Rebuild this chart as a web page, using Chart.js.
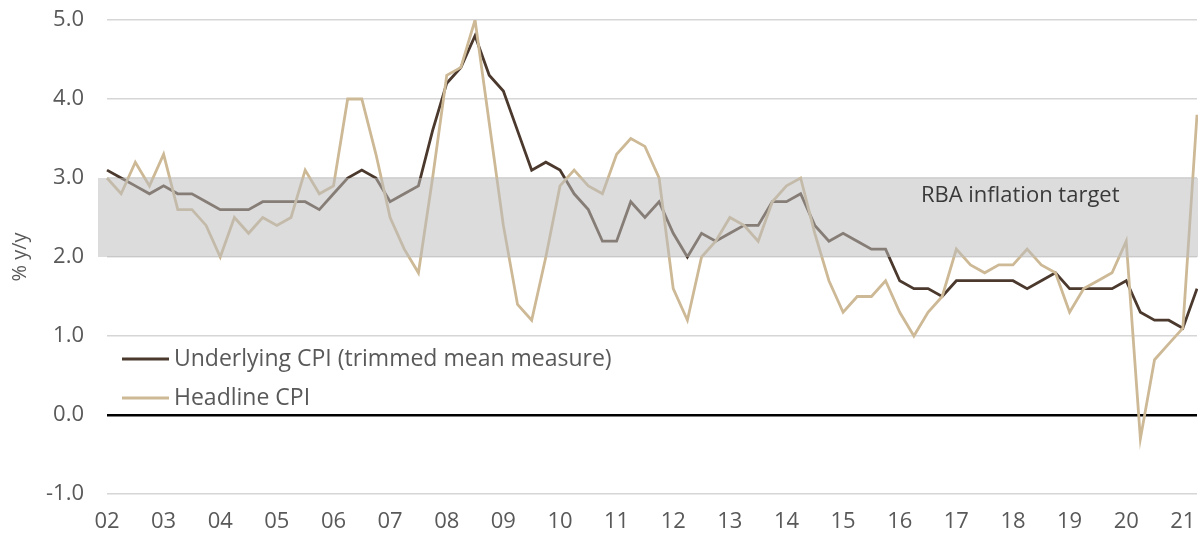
<!DOCTYPE html>
<html>
<head>
<meta charset="utf-8">
<script src="https://cdn.jsdelivr.net/npm/chart.js@4.4.1/dist/chart.umd.min.js"></script>
<style>
  html, body { margin: 0; padding: 0; background: #fff; }
  #wrap { width: 1198px; height: 538px; }
</style>
</head>
<body>
<div id="wrap"><canvas id="myChart" width="1198" height="538"></canvas></div>
<script>
// years shown on the axis, quarterly data Q1 2002 .. Q2 2021
const years = ['02','03','04','05','06','07','08','09','10','11',
               '12','13','14','15','16','17','18','19','20','21'];

// % y/y, trimmed mean
const underlying = [
  3.1, 3.0, 2.9, 2.8, 2.9, 2.8, 2.8, 2.7, 2.6, 2.6, 2.6, 2.7, 2.7, 2.7, 2.7, 2.6, 2.8, 3.0, 3.1, 3.0,
  2.7, 2.8, 2.9, 3.6, 4.2, 4.4, 4.8, 4.3, 4.1, 3.6, 3.1, 3.2, 3.1, 2.8, 2.6, 2.2, 2.2, 2.7, 2.5, 2.7,
  2.3, 2.0, 2.3, 2.2, 2.3, 2.4, 2.4, 2.7, 2.7, 2.8, 2.4, 2.2, 2.3, 2.2, 2.1, 2.1, 1.7, 1.6, 1.6, 1.5,
  1.7, 1.7, 1.7, 1.7, 1.7, 1.6, 1.7, 1.8, 1.6, 1.6, 1.6, 1.6, 1.7, 1.3, 1.2, 1.2, 1.1, 1.6
];

// % y/y, headline
const headline = [
  3.0, 2.8, 3.2, 2.9, 3.3, 2.6, 2.6, 2.4, 2.0, 2.5, 2.3, 2.5, 2.4, 2.5, 3.1, 2.8, 2.9, 4.0, 4.0, 3.3,
  2.5, 2.1, 1.8, 3.0, 4.3, 4.4, 5.0, 3.7, 2.4, 1.4, 1.2, 2.0, 2.9, 3.1, 2.9, 2.8, 3.3, 3.5, 3.4, 3.0,
  1.6, 1.2, 2.0, 2.2, 2.5, 2.4, 2.2, 2.7, 2.9, 3.0, 2.3, 1.7, 1.3, 1.5, 1.5, 1.7, 1.3, 1.0, 1.3, 1.5,
  2.1, 1.9, 1.8, 1.9, 1.9, 2.1, 1.9, 1.8, 1.3, 1.6, 1.7, 1.8, 2.2, -0.3, 0.7, 0.9, 1.1, 3.8
];

const targetBand = [2.0, 3.0];
const targetLabel = 'RBA inflation target';

// build quarter categories from the years
const quarters = [];
years.forEach(y => {
  for (let q = 1; q <= 4; q++) quarters.push(y + 'Q' + q);
});
quarters.length = underlying.length;

const FONT = '"Open Sans", "Noto Sans", sans-serif';
const TEXT = '#595959';

const COLORS = {
  underlying: '#4b392d',
  headline: '#cdb996',
  grid: '#d6d6d6',
  band: 'rgba(188,188,188,0.52)'
};

// shaded target band goes on top of the lines (semi transparent) + its label
const bandPlugin = {
  id: 'band',
  afterDatasetsDraw(chart) {
    const {ctx, chartArea, scales: {x, y}} = chart;
    const top = y.getPixelForValue(targetBand[1]);
    const bot = y.getPixelForValue(targetBand[0]);
    ctx.save();
    ctx.fillStyle = COLORS.band;
    ctx.fillRect(chartArea.left - 9, top, chart.width - chartArea.left + 9, bot - top);
    ctx.fillStyle = '#3a3a3a';
    ctx.font = '22px ' + FONT;
    ctx.textBaseline = 'middle';
    ctx.fillText(targetLabel, x.getPixelForValue(57) + 7, y.getPixelForValue(2.78));
    ctx.restore();
  }
};

// legend inside the plot, lower left
const legendPlugin = {
  id: 'innerLegend',
  afterDraw(chart) {
    const {ctx, chartArea} = chart;
    ctx.save();
    ctx.font = '23px ' + FONT;
    ctx.textBaseline = 'middle';
    chart.data.datasets.forEach((ds, i) => {
      const yy = chartArea.top + 339 + i * 39;
      const x0 = chartArea.left + 15;
      ctx.strokeStyle = ds.borderColor;
      ctx.lineWidth = 3;
      ctx.beginPath();
      ctx.moveTo(x0, yy);
      ctx.lineTo(x0 + 47, yy);
      ctx.stroke();
      ctx.fillStyle = TEXT;
      ctx.fillText(ds.label, x0 + 52, yy);
    });
    ctx.restore();
  }
};

const data = {
  labels: quarters,
  datasets: [
    {
      label: 'Underlying CPI (trimmed mean measure)',
      data: underlying,
      borderColor: COLORS.underlying,
      borderWidth: 2.8,
      pointRadius: 0,
      tension: 0,
      order: 1
    },
    {
      label: 'Headline CPI',
      data: headline,
      borderColor: COLORS.headline,
      borderWidth: 2.8,
      pointRadius: 0,
      tension: 0,
      order: 0
    }
  ]
};

const config = {
  type: 'line',
  data: data,
  options: {
    responsive: false,
    animation: false,
    layout: { padding: { top: 20, right: 1, left: 0, bottom: 0 } },
    plugins: {
      legend: { display: false },
      tooltip: { enabled: false }
    },
    scales: {
      x: {
        grid: { display: false, drawTicks: false },
        border: { display: false },
        ticks: {
          autoSkip: false,
          maxRotation: 0,
          padding: 15,
          color: TEXT,
          font: { family: FONT, size: 22 },
          callback: (v, i) => (i % 4 === 0 ? years[i / 4] : '')
        },
        afterFit: s => {
          s.height = 44;
          s.paddingLeft = 0;
          s.paddingRight = 0;
        }
      },
      y: {
        min: -1,
        max: 5,
        grid: {
          drawTicks: false,
          color: c => (c.tick.value === 0 ? '#000' : COLORS.grid),
          lineWidth: c => (c.tick.value === 0 ? 2.5 : 1.5)
        },
        border: { display: false },
        ticks: {
          stepSize: 1,
          padding: 23,
          color: TEXT,
          font: { family: FONT, size: 22 },
          callback: v => v.toFixed(1)
        },
        title: {
          display: true,
          text: '% y/y',
          color: TEXT,
          font: { family: FONT, size: 20 },
          padding: { top: 8, bottom: 0 }
        },
        afterFit: s => {
          s.width = 107;
          s.paddingTop = 0;
          s.paddingBottom = 0;
        }
      }
    }
  },
  plugins: [bandPlugin, legendPlugin]
};

const myChart = new Chart(document.getElementById('myChart'), config);
</script>
</body>
</html>
